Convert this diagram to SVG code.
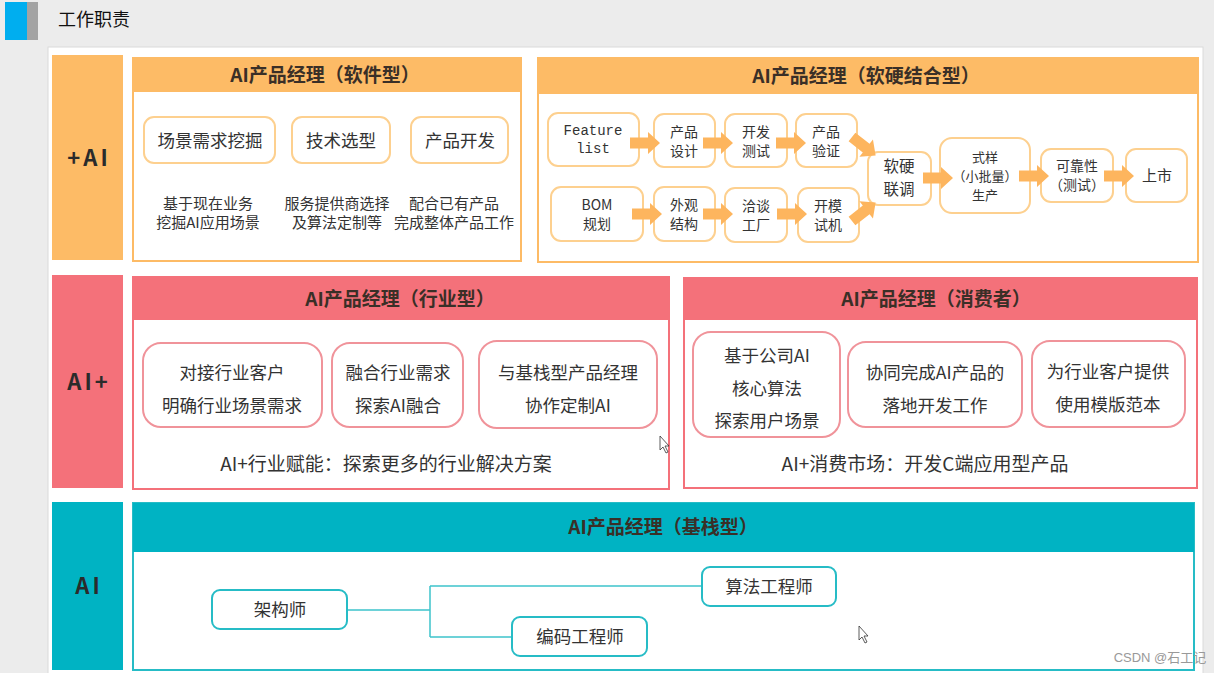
<svg xmlns="http://www.w3.org/2000/svg" width="1214" height="673" viewBox="0 0 1214 673">
<style>
text{font-family:"Noto Sans CJK SC","Liberation Sans",sans-serif;fill:#333;}
.hdr{font-size:19px;font-weight:bold;fill:#3a2f27;text-anchor:middle;}
.side{font-size:22px;font-weight:bold;fill:#2b2b2b;text-anchor:middle;letter-spacing:3px;}
.t16{font-size:17.5px;text-anchor:middle;}
.t14{font-size:15px;text-anchor:middle;}
.t13{font-size:14px;text-anchor:middle;}
.ft{font-size:19px;text-anchor:middle;}
.ob{fill:#fff;stroke:#FDD08F;stroke-width:2;}
.pb{fill:#fff;stroke:#F0939A;stroke-width:2;}
.tb{fill:#fff;stroke:#26BCC6;stroke-width:2;}
.arr{fill:#FDB55E;}
.tl{fill:none;stroke:#3EC4CC;stroke-width:1.5;}
</style>
<defs>
<path id="ar" d="M0,-5.5 H18 V-11 L30,0 L18,11 V5.5 H0 Z"/>
</defs>
<rect x="0" y="0" width="1214" height="673" fill="#ECECEC"/>
<rect x="5" y="2" width="22" height="38" fill="#00AEEF"/>
<rect x="27" y="2" width="11" height="38" fill="#A3A3A3"/>
<text x="58" y="26" style="font-size:18px;fill:#111;">工作职责</text>
<rect x="48" y="47" width="1155" height="630" fill="#fff" stroke="#DADADA" stroke-width="1"/>

<!-- +AI row -->
<g id="side-plusai">
<rect x="52" y="55" width="71" height="205" fill="#FDBB66"/>
<text x="89" y="166" class="side">+AI</text>
</g>
<g id="software">
<rect x="133" y="58" width="388" height="203" fill="#fff" stroke="#FDBB66" stroke-width="2"/>
<rect x="133" y="58" width="388" height="34" fill="#FDBB66"/>
<text x="325" y="82" class="hdr">AI产品经理（软件型）</text>
</g>
<g id="n-changjing"><rect x="144" y="117" width="131" height="46" rx="10" class="ob"/><text x="210" y="147" class="t16">场景需求挖掘</text></g>
<g id="n-jishu"><rect x="292" y="117" width="98" height="46" rx="10" class="ob"/><text x="341" y="147" class="t16">技术选型</text></g>
<g id="n-kaifa"><rect x="411" y="117" width="97" height="46" rx="10" class="ob"/><text x="460" y="147" class="t16">产品开发</text></g>
<g id="d-software">
<text x="208" y="209" class="t14">基于现在业务</text>
<text x="208" y="228" class="t14">挖掘AI应用场景</text>
<text x="337" y="209" class="t14">服务提供商选择</text>
<text x="337" y="228" class="t14">及算法定制等</text>
<text x="454" y="209" class="t14">配合已有产品</text>
<text x="454" y="228" class="t14">完成整体产品工作</text>
</g>

<g id="hardware">
<rect x="538" y="58" width="660" height="204" fill="#fff" stroke="#FDBB66" stroke-width="2"/>
<rect x="538" y="58" width="660" height="36" fill="#FDBB66"/>
<text x="866" y="83" class="hdr">AI产品经理（软硬结合型）</text>
</g>
<g id="h-feature"><rect x="548" y="113" width="91" height="53" rx="10" class="ob"/><text x="593" y="135" class="t13" style="font-family:'Liberation Mono','DejaVu Sans Mono',monospace;">Feature</text><text x="593" y="153" class="t13" style="font-family:'Liberation Mono','DejaVu Sans Mono',monospace;">list</text></g>
<g id="h-sheji"><rect x="654" y="114" width="61" height="53" rx="10" class="ob"/><text x="684" y="137" class="t13">产品</text><text x="684" y="156" class="t13">设计</text></g>
<g id="h-ceshi"><rect x="725" y="114" width="62" height="53" rx="10" class="ob"/><text x="756" y="137" class="t13">开发</text><text x="756" y="156" class="t13">测试</text></g>
<g id="h-yanzheng"><rect x="796" y="114" width="61" height="53" rx="10" class="ob"/><text x="826" y="137" class="t13">产品</text><text x="826" y="156" class="t13">验证</text></g>
<g id="h-bom"><rect x="551" y="187" width="92" height="54" rx="10" class="ob"/><text x="597" y="210" class="t13">BOM</text><text x="597" y="229" class="t13">规划</text></g>
<g id="h-waiguan"><rect x="654" y="187" width="61" height="54" rx="10" class="ob"/><text x="684" y="210" class="t13">外观</text><text x="684" y="229" class="t13">结构</text></g>
<g id="h-qiatan"><rect x="725" y="188" width="62" height="54" rx="10" class="ob"/><text x="756" y="211" class="t13">洽谈</text><text x="756" y="230" class="t13">工厂</text></g>
<g id="h-kaimo"><rect x="798" y="188" width="61" height="54" rx="10" class="ob"/><text x="828" y="211" class="t13">开模</text><text x="828" y="230" class="t13">试机</text></g>
<g id="h-lian"><rect x="868" y="152" width="63" height="53" rx="10" class="ob"/><text x="899" y="172" style="font-size:15.5px;text-anchor:middle;">软硬</text><text x="899" y="195" style="font-size:15.5px;text-anchor:middle;">联调</text></g>
<g id="h-shiyang"><rect x="940" y="138" width="90" height="75" rx="12" class="ob"/><text x="985" y="162" style="font-size:13px;text-anchor:middle;">式样</text><text x="985" y="181" style="font-size:13px;text-anchor:middle;">（小批量）</text><text x="985" y="200" style="font-size:13px;text-anchor:middle;">生产</text></g>
<g id="h-kekao"><rect x="1041" y="149" width="72" height="53" rx="10" class="ob"/><text x="1077" y="171" class="t13">可靠性</text><text x="1077" y="190" class="t13">（测试）</text></g>
<g id="h-shangshi"><rect x="1126" y="149" width="61" height="53" rx="10" class="ob"/><text x="1157" y="181" class="t14">上市</text></g>

<g id="arrows" class="arr">
<use href="#ar" transform="translate(630,143)"/>
<use href="#ar" transform="translate(703,143)"/>
<use href="#ar" transform="translate(776,143)"/>
<use href="#ar" transform="translate(852,137) rotate(38)"/>
<use href="#ar" transform="translate(632,214)"/>
<use href="#ar" transform="translate(703,214)"/>
<use href="#ar" transform="translate(777,214)"/>
<use href="#ar" transform="translate(852,221) rotate(-38)"/>
<use href="#ar" transform="translate(923,178)"/>
<use href="#ar" transform="translate(1019,176)"/>
<use href="#ar" transform="translate(1104,176)"/>
</g>

<!-- AI+ row -->
<g id="side-aiplus">
<rect x="52" y="275" width="71" height="213" fill="#F4717A"/>
<text x="89" y="390" class="side">AI+</text>
</g>
<g id="industry">
<rect x="133" y="277" width="536" height="212" fill="#fff" stroke="#F4717A" stroke-width="2"/>
<rect x="133" y="277" width="536" height="43" fill="#F4717A"/>
<text x="400" y="306" class="hdr">AI产品经理（行业型）</text>
<text x="386" y="471" class="ft">AI+行业赋能：探索更多的行业解决方案</text>
</g>
<g id="i1"><rect x="143" y="343" width="179" height="84" rx="18" class="pb"/><text x="232" y="379" class="t16">对接行业客户</text><text x="232" y="412" class="t16">明确行业场景需求</text></g>
<g id="i2"><rect x="332" y="343" width="131" height="84" rx="18" class="pb"/><text x="398" y="379" class="t16">融合行业需求</text><text x="398" y="412" class="t16">探索AI融合</text></g>
<g id="i3"><rect x="479" y="341" width="178" height="87" rx="18" class="pb"/><text x="568" y="379" class="t16">与基栈型产品经理</text><text x="568" y="412" class="t16">协作定制AI</text></g>

<g id="consumer">
<rect x="684" y="278" width="513" height="210" fill="#fff" stroke="#F4717A" stroke-width="2"/>
<rect x="684" y="278" width="513" height="42" fill="#F4717A"/>
<text x="936" y="306" class="hdr">AI产品经理（消费者）</text>
<text x="925" y="471" class="ft">AI+消费市场：开发C端应用型产品</text>
</g>
<g id="c1"><rect x="693" y="332" width="147" height="105" rx="18" class="pb"/><text x="767" y="362" class="t16">基于公司AI</text><text x="767" y="395" class="t16">核心算法</text><text x="767" y="427" class="t16">探索用户场景</text></g>
<g id="c2"><rect x="848" y="342" width="174" height="85" rx="18" class="pb"/><text x="935" y="379" class="t16">协同完成AI产品的</text><text x="935" y="412" class="t16">落地开发工作</text></g>
<g id="c3"><rect x="1032" y="341" width="153" height="86" rx="18" class="pb"/><text x="1108" y="378" class="t16">为行业客户提供</text><text x="1108" y="411" class="t16">使用模版范本</text></g>

<!-- AI row -->
<g id="side-ai">
<rect x="52" y="502" width="71" height="168" fill="#00B3C3"/>
<text x="89" y="594" class="side">AI</text>
</g>
<g id="base">
<rect x="133" y="503" width="1061" height="167" fill="#fff" stroke="#26BCC6" stroke-width="2"/>
<rect x="133" y="503" width="1061" height="49" fill="#00B3C3"/>
<text x="663" y="534" class="hdr">AI产品经理（基栈型）</text>
</g>
<g id="tree-lines">
<path class="tl" d="M347,610 H430 M430,586 V637 M430,586 H702 M430,637 H512"/>
</g>
<g id="b-jiagou"><rect x="212" y="590" width="135" height="39" rx="8" class="tb"/><text x="280" y="616" class="t16">架构师</text></g>
<g id="b-suanfa"><rect x="702" y="567" width="134" height="39" rx="8" class="tb"/><text x="769" y="593" class="t16">算法工程师</text></g>
<g id="b-bianma"><rect x="512" y="617" width="135" height="39" rx="8" class="tb"/><text x="580" y="643" class="t16">编码工程师</text></g>

<text x="1160" y="662" style="font-size:13px;fill:#999;text-anchor:middle;font-family:'Liberation Sans','Noto Sans CJK SC',sans-serif;">CSDN @石工记</text>

<path d="M660,436 V450 L663,447 L666,453 L668,452 L665,446 L669,446 Z" fill="#fff" stroke="#333" stroke-width="0.8"/>
<path d="M859,626 V640 L862,637 L865,643 L867,642 L864,636 L868,636 Z" fill="#fff" stroke="#333" stroke-width="0.8"/>
</svg>
